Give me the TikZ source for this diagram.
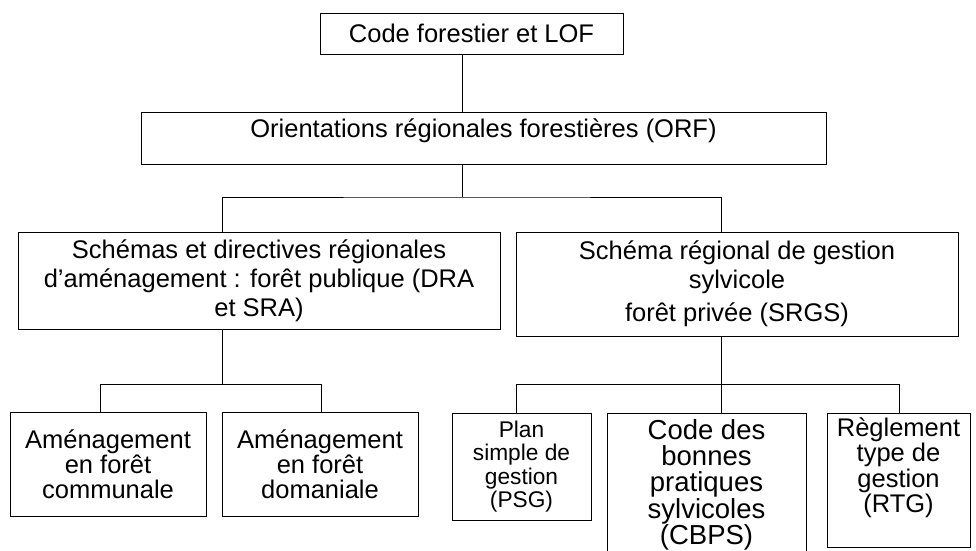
\documentclass[tikz,border=0pt]{standalone}
\usepackage{fontspec}
\setmainfont{Liberation Sans}
\usetikzlibrary{positioning}
\newcommand{\dropby}[1]{\rule[-#1]{0pt}{#1}}

\begin{document}
\begin{tikzpicture}[x=1pt, y=-1pt, line width=1pt,
	boxStyle/.style={draw, shape=rectangle, inner sep=0pt, align=center, font=\fontsize{25.5}{29.2}\selectfont},
	leafStyle/.style={boxStyle, font=\fontsize{25.5}{25}\selectfont}]
	\useasboundingbox (0,0) rectangle (976,550);
	% boxes
	\node[boxStyle, minimum width=303, minimum height=41] (lof) at (471.5,33.5) {Code forestier et LOF};
	\node[boxStyle, minimum width=685, minimum height=52] (orf) at (483.5,138) {Orientations régionales forestières (ORF)\dropby{19pt}};
	\node[boxStyle, minimum width=482, minimum height=97] (dra) at (259,280.5) {Schémas et directives régionales\\d’aménagement : forêt publique (DRA\\et SRA)};
	\node[boxStyle, font=\fontsize{25.5}{28.5}\selectfont, minimum width=442, minimum height=104] (srgs) at (737,284) {Schéma régional de gestion\\sylvicole\\[5pt]forêt privée (SRGS)};
	\node[leafStyle, minimum width=196, minimum height=104] (comm) at (108,464) {Aménagement\\en forêt\\communale};
	\node[leafStyle, minimum width=196, minimum height=104] (dom) at (320,464) {Aménagement\\en forêt\\domaniale};
	\node[leafStyle, font=\fontsize{22.7}{23.3}\selectfont, minimum width=139, minimum height=107] (psg) at (521.5,466.5) {Plan\\simple de\\gestion\\(PSG)};
	\node[leafStyle, font=\fontsize{27.5}{26.4}\selectfont, minimum width=199, minimum height=150] (cbps) at (706.5,488) {Code des\\bonnes\\pratiques\\sylvicoles\\(CBPS)\dropby{12pt}};
	\node[leafStyle, font=\fontsize{25.5}{25.5}\selectfont, minimum width=143, minimum height=134] (rtg) at (898.5,480) {Règlement\\type de\\gestion\\(RTG)\dropby{30pt}};
	% junctions
	\coordinate (orfSplit) at (462,197);
	\coordinate (draSplit) at (222,384);
	\coordinate (srgsSplit) at (721,384);
	\coordinate (commDrop) at (100,384);
	\coordinate (domDrop) at (321,384);
	\coordinate (psgDrop) at (516,384);
	\coordinate (rtgDrop) at (899,384);
	% connectors
	\draw (lof.south -| orfSplit) -- (orf.north -| orfSplit);
	\draw (orf.south -| orfSplit) -- (orfSplit);
	\draw (dra.north -| draSplit) |- (orfSplit) -| (srgs.north -| srgsSplit);
	\draw (dra.south -| draSplit) -- (draSplit);
	\draw (comm.north -| commDrop) -- (commDrop) -- (domDrop) -- (dom.north -| domDrop);
	\draw (srgs.south -| srgsSplit) -- (cbps.north -| srgsSplit);
	\draw (psg.north -| psgDrop) -- (psgDrop) -- (rtgDrop) -- (rtg.north -| rtgDrop);
\end{tikzpicture}
\end{document}
